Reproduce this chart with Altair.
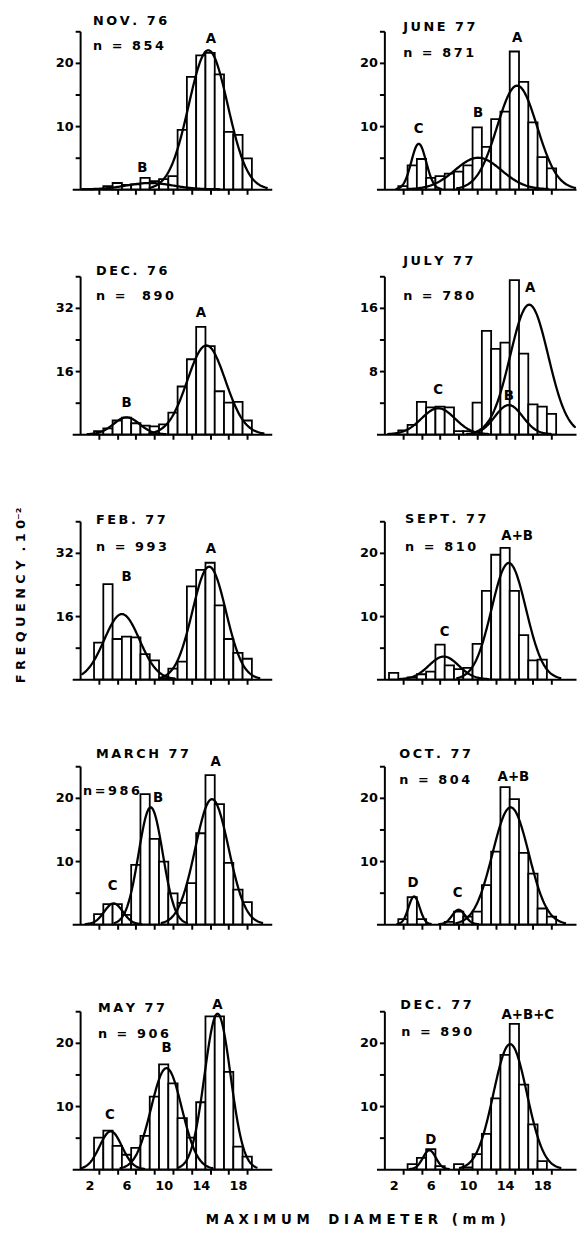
import altair as alt
import pandas as pd

FONT = "DejaVu Sans"
THIN = "\u2009"
NB = "\u00a0"

# ---- panel order: row by row, left then right ----
TITLES = ["NOV. 76", "JUNE 77", "DEC. 76", "JULY 77", "FEB. 77",
          "SEPT. 77", "MARCH 77", "OCT. 77", "MAY 77", "DEC. 77"]
N_TEXTS = ["n = 854", "n = 871", "n =  890", "n = 780", "n = 993",
           "n = 810", "n=986", "n = 804", "n = 906", "n = 890"]

# y axes (frequency x 10^-2)
Y_MAX = [25, 25, 40, 20, 40, 25, 25, 25, 25, 25]
Y_STEP = [5, 5, 8, 4, 8, 5, 5, 5, 5, 5]
Y_LABELLED = [[10, 20], [10, 20], [16, 32], [8, 16], [16, 32],
              [10, 20], [10, 20], [10, 20], [10, 20], [10, 20]]

# histogram: first size class (mm) and frequencies of successive 1-mm classes
BIN_START = [4, 3, 3, 3, 3, 2, 3, 3, 3, 4]
FREQ_NOV76 = [0.5, 1.0, 0.7, 0.8, 1.8, 1.3, 1.6, 2.1, 9.4, 17.8, 21.2, 21.6, 18.2, 9.1, 8.6, 4.9]
FREQ_JUN77 = [0.5, 3.8, 4.8, 1.8, 2.1, 2.5, 2.8, 3.8, 9.8, 6.7, 11.1, 12.3, 21.8, 17.0, 10.6, 5.1, 3.3]
FREQ_DEC76 = [0.8, 1.5, 3.5, 4.2, 2.8, 2.2, 2.0, 2.5, 5.5, 12.1, 19.0, 27.2, 22.3, 10.9, 8.0, 8.2, 3.5]
FREQ_JUL77 = [0.5, 1.2, 4.1, 3.4, 3.5, 3.4, 0.4, 0.4, 4.0, 13.1, 10.8, 11.6, 19.5, 10.2, 3.8, 3.5, 2.6]
FREQ_FEB77 = [9.3, 24.1, 10.2, 10.8, 10.6, 6.4, 4.8, 0.3, 2.7, 4.5, 23.5, 27.7, 29.5, 18.7, 10.2, 6.7, 5.2]
FREQ_SEP77 = [1.0, 0.0, 0.3, 0.8, 1.2, 5.5, 2.2, 1.6, 1.8, 5.6, 14.0, 19.7, 20.8, 14.0, 7.0, 3.0, 3.1]
FREQ_MAR77 = [1.6, 3.2, 3.2, 1.5, 9.4, 20.6, 13.5, 9.9, 4.9, 3.4, 6.5, 14.4, 23.6, 19.0, 9.7, 5.5, 3.5]
FREQ_OCT77 = [0.8, 4.3, 0.8, 0.0, 0.0, 0.4, 2.0, 1.2, 2.0, 6.2, 11.5, 21.7, 19.8, 11.3, 8.0, 2.5, 1.2]
FREQ_MAY77 = [5.0, 6.1, 3.7, 2.3, 3.4, 5.3, 11.5, 16.6, 13.6, 8.1, 5.0, 10.6, 24.2, 24.2, 15.4, 3.6, 2.0]
FREQ_DEC77 = [0.8, 1.8, 3.2, 0.5, 0.0, 0.8, 0.3, 2.4, 5.6, 11.2, 18.1, 23.0, 13.4, 7.1, 1.3]
FREQS = [FREQ_NOV76, FREQ_JUN77, FREQ_DEC76, FREQ_JUL77, FREQ_FEB77,
         FREQ_SEP77, FREQ_MAR77, FREQ_OCT77, FREQ_MAY77, FREQ_DEC77]

# fitted normal components: name, mean (mm), sd (mm), peak height
COMP_NAME = [["B", "A"], ["C", "B", "A"], ["B", "A"], ["C", "B", "A"], ["B", "A"],
             ["C", "A+B"], ["C", "B", "A"], ["D", "C", "A+B"], ["C", "B", "A"], ["D", "A+B+C"]]
COMP_MEAN = [[8.5, 14.8], [4.7, 11.1, 15.3], [6.0, 14.6], [6.8, 14.4, 16.6], [5.5, 14.9],
             [7.4, 14.4], [4.6, 8.6, 15.2], [4.2, 9.0, 14.6], [4.3, 10.3, 15.8], [5.85, 14.55]]
COMP_SD = [[2.5, 2.1], [0.8, 2.5, 2.15], [1.4, 2.05], [1.8, 1.5, 2.05], [1.9, 1.8],
           [1.6, 1.85], [1.0, 1.3, 1.8], [0.6, 0.7, 1.95], [1.2, 1.65, 1.4], [0.7, 1.8]]
COMP_PEAK = [[1.0, 22.0], [7.2, 5.0, 16.4], [4.3, 22.5], [3.3, 3.7, 16.4], [16.5, 28.5],
             [3.6, 18.4], [3.3, 18.5, 19.8], [4.4, 2.3, 18.5], [6.0, 16.0, 24.6], [3.0, 19.8]]

# cohort letters
LABEL_TEXT = [["A", "B"], ["A", "B", "C"], ["A", "B"], ["A", "B", "C"], ["A", "B"],
              ["A+B", "C"], ["A", "B", "C"], ["A+B", "D", "C"], ["A", "B", "C"], ["A+B+C", "D"]]
LABEL_X = [[15.1, 7.7], [15.3, 11.1, 4.7], [14.0, 6.0], [16.7, 14.4, 6.8], [15.1, 6.0],
           [15.3, 7.5], [15.6, 9.4, 4.5], [14.9, 4.1, 8.9], [15.8, 10.3, 4.2], [16.45, 6.0]]
LABEL_Y = [[23.7, 3.4], [23.9, 12.1, 9.5], [30.8, 8.0], [18.5, 4.8, 5.6], [33.0, 26.0],
           [22.7, 7.5], [25.7, 20.0, 6.0], [23.3, 6.5, 4.9], [26.0, 19.1, 8.5], [24.4, 4.7]]

# placement of the panel headings (pixels from plot corner)
TITLE_DX = [21, 27, 24, 27, 24, 29, 24, 23, 26, 24]
TITLE_DY = [-10, -4, -5, -15, -1, -2, -12, -12, -3, -6]
N_DX = [21, 27, 24, 27, 24, 29, 11, 23, 26, 25]
N_DY = [15, 22, 20, 20, 26, 26, 25, 14, 23, 21]

X_LABELS = [2, 6, 10, 14, 18]
T_GRID = [round(-3 + 0.05 * i, 2) for i in range(121)]

X0, X1 = 0.15, 21.64
W, H = 202, 160


def spaced(s, sep=THIN):
    return sep.join(NB if ch == " " else ch for ch in s)


def make_panel(k, bottom):
    xs = alt.Scale(domain=[X0, X1], nice=False, zero=False)
    ys = alt.Scale(domain=[0, Y_MAX[k]], nice=False, zero=True)
    odd = list(range(3, 20, 2))
    if bottom:
        vals = sorted(odd + X_LABELS)
        xaxis = alt.Axis(values=vals, title=None, labelOverlap=False, labelFlush=False,
                         labelPadding=5,
                         labelExpr="datum.value % 4 == 2 ? datum.label : ''",
                         tickOpacity={"condition": {"test": "datum.value % 2 == 0", "value": 0},
                                      "value": 1})
    else:
        xaxis = alt.Axis(values=odd, labels=False, title=None)
    yvals = list(range(Y_STEP[k], Y_MAX[k] + 1, Y_STEP[k]))
    test = " || ".join("datum.value == %d" % v for v in Y_LABELLED[k])
    yaxis = alt.Axis(values=yvals, title=None, offset=-8, labelOverlap=False,
                     labelExpr="(%s) ? datum.label : ''" % test)

    freq = FREQS[k]
    centers = [BIN_START[k] + i for i in range(len(freq))]
    bdf = pd.DataFrame({"lo": [c - 0.5 for c in centers], "hi": [c + 0.5 for c in centers],
                        "freq": freq, "base": [0.0] * len(freq)})
    bdf = bdf[bdf["freq"] > 0]
    bars = alt.Chart(bdf).mark_rect(fill="white", stroke="black", strokeWidth=1.8).encode(
        x=alt.X("lo:Q", scale=xs, axis=xaxis),
        x2="hi:Q",
        y=alt.Y("freq:Q", scale=ys, axis=yaxis),
        y2="base:Q",
    )

    cdf = pd.DataFrame({"comp": COMP_NAME[k], "mu": COMP_MEAN[k], "sd": COMP_SD[k],
                        "peak": COMP_PEAK[k]})
    cdf["t"] = [T_GRID] * len(cdf)
    curves = alt.Chart(cdf).transform_flatten(["t"]).transform_calculate(
        cx="datum.mu + datum.t * datum.sd",
        cy="datum.peak * exp(-datum.t * datum.t / 2)",
    ).transform_filter("datum.cx >= 1.15 && datum.cx <= 21.6").mark_line(
        color="black", strokeWidth=2.3, strokeCap="round", strokeJoin="round"
    ).encode(
        x=alt.X("cx:Q", scale=xs, axis=xaxis),
        y=alt.Y("cy:Q", scale=ys, axis=yaxis),
        detail="comp:N",
        order="t:Q",
    )

    ldf = pd.DataFrame({"lt": LABEL_TEXT[k], "lx": LABEL_X[k], "ly": LABEL_Y[k]})
    letters = alt.Chart(ldf).mark_text(font=FONT, fontWeight="bold", fontSize=13.5,
                                       color="black", baseline="middle").encode(
        x=alt.X("lx:Q", scale=xs, axis=xaxis),
        y=alt.Y("ly:Q", scale=ys, axis=yaxis),
        text="lt:N",
    )

    title = alt.Chart(pd.DataFrame({"s": [spaced(TITLES[k])]})).mark_text(
        font=FONT, fontWeight="bold", fontSize=13, color="black", align="left", baseline="middle"
    ).encode(x=alt.value(TITLE_DX[k]), y=alt.value(TITLE_DY[k]), text="s:N")
    ntext = alt.Chart(pd.DataFrame({"s": [spaced(N_TEXTS[k])]})).mark_text(
        font=FONT, fontWeight="bold", fontSize=13, color="black", align="left", baseline="middle"
    ).encode(x=alt.value(N_DX[k]), y=alt.value(N_DY[k]), text="s:N")

    layers = [bars, curves, letters, title, ntext]
    if k == 4:
        ylab = "F R E Q U E N C Y  . 1 0\u207b\u00b2".replace(" ", NB)
        layers.append(alt.Chart(pd.DataFrame({"s": [ylab]})).mark_text(
            font=FONT, fontWeight="bold", fontSize=13, color="black", angle=270,
            align="center", baseline="middle"
        ).encode(x=alt.value(-52), y=alt.value(75), text="s:N"))
    if k == 8:
        xlab = "M A X I M U M    D I A M E T E R   ( m m )".replace(" ", NB)
        layers.append(alt.Chart(pd.DataFrame({"s": [xlab]})).mark_text(
            font=FONT, fontWeight="bold", fontSize=13.5, color="black",
            align="center", baseline="middle"
        ).encode(x=alt.value(287), y=alt.value(211), text="s:N"))
    return alt.layer(*layers).properties(width=W, height=H)


panels = [make_panel(k, k >= 8) for k in range(10)]

chart = alt.concat(*panels, columns=2, spacing={"row": 88, "column": 106},
                   bounds="flush").properties(
    padding={"left": 7, "top": 0, "right": 0, "bottom": 4},
    background="white",
).configure_view(stroke=None).configure_axis(
    domainColor="black", domainWidth=2, tickColor="black", tickWidth=2, tickSize=5,
    labelFont=FONT, labelFontWeight="bold", labelFontSize=13, labelColor="black",
    labelPadding=2, grid=False,
)

chart.save("out.html", embed_options={"renderer": "svg", "actions": False})
